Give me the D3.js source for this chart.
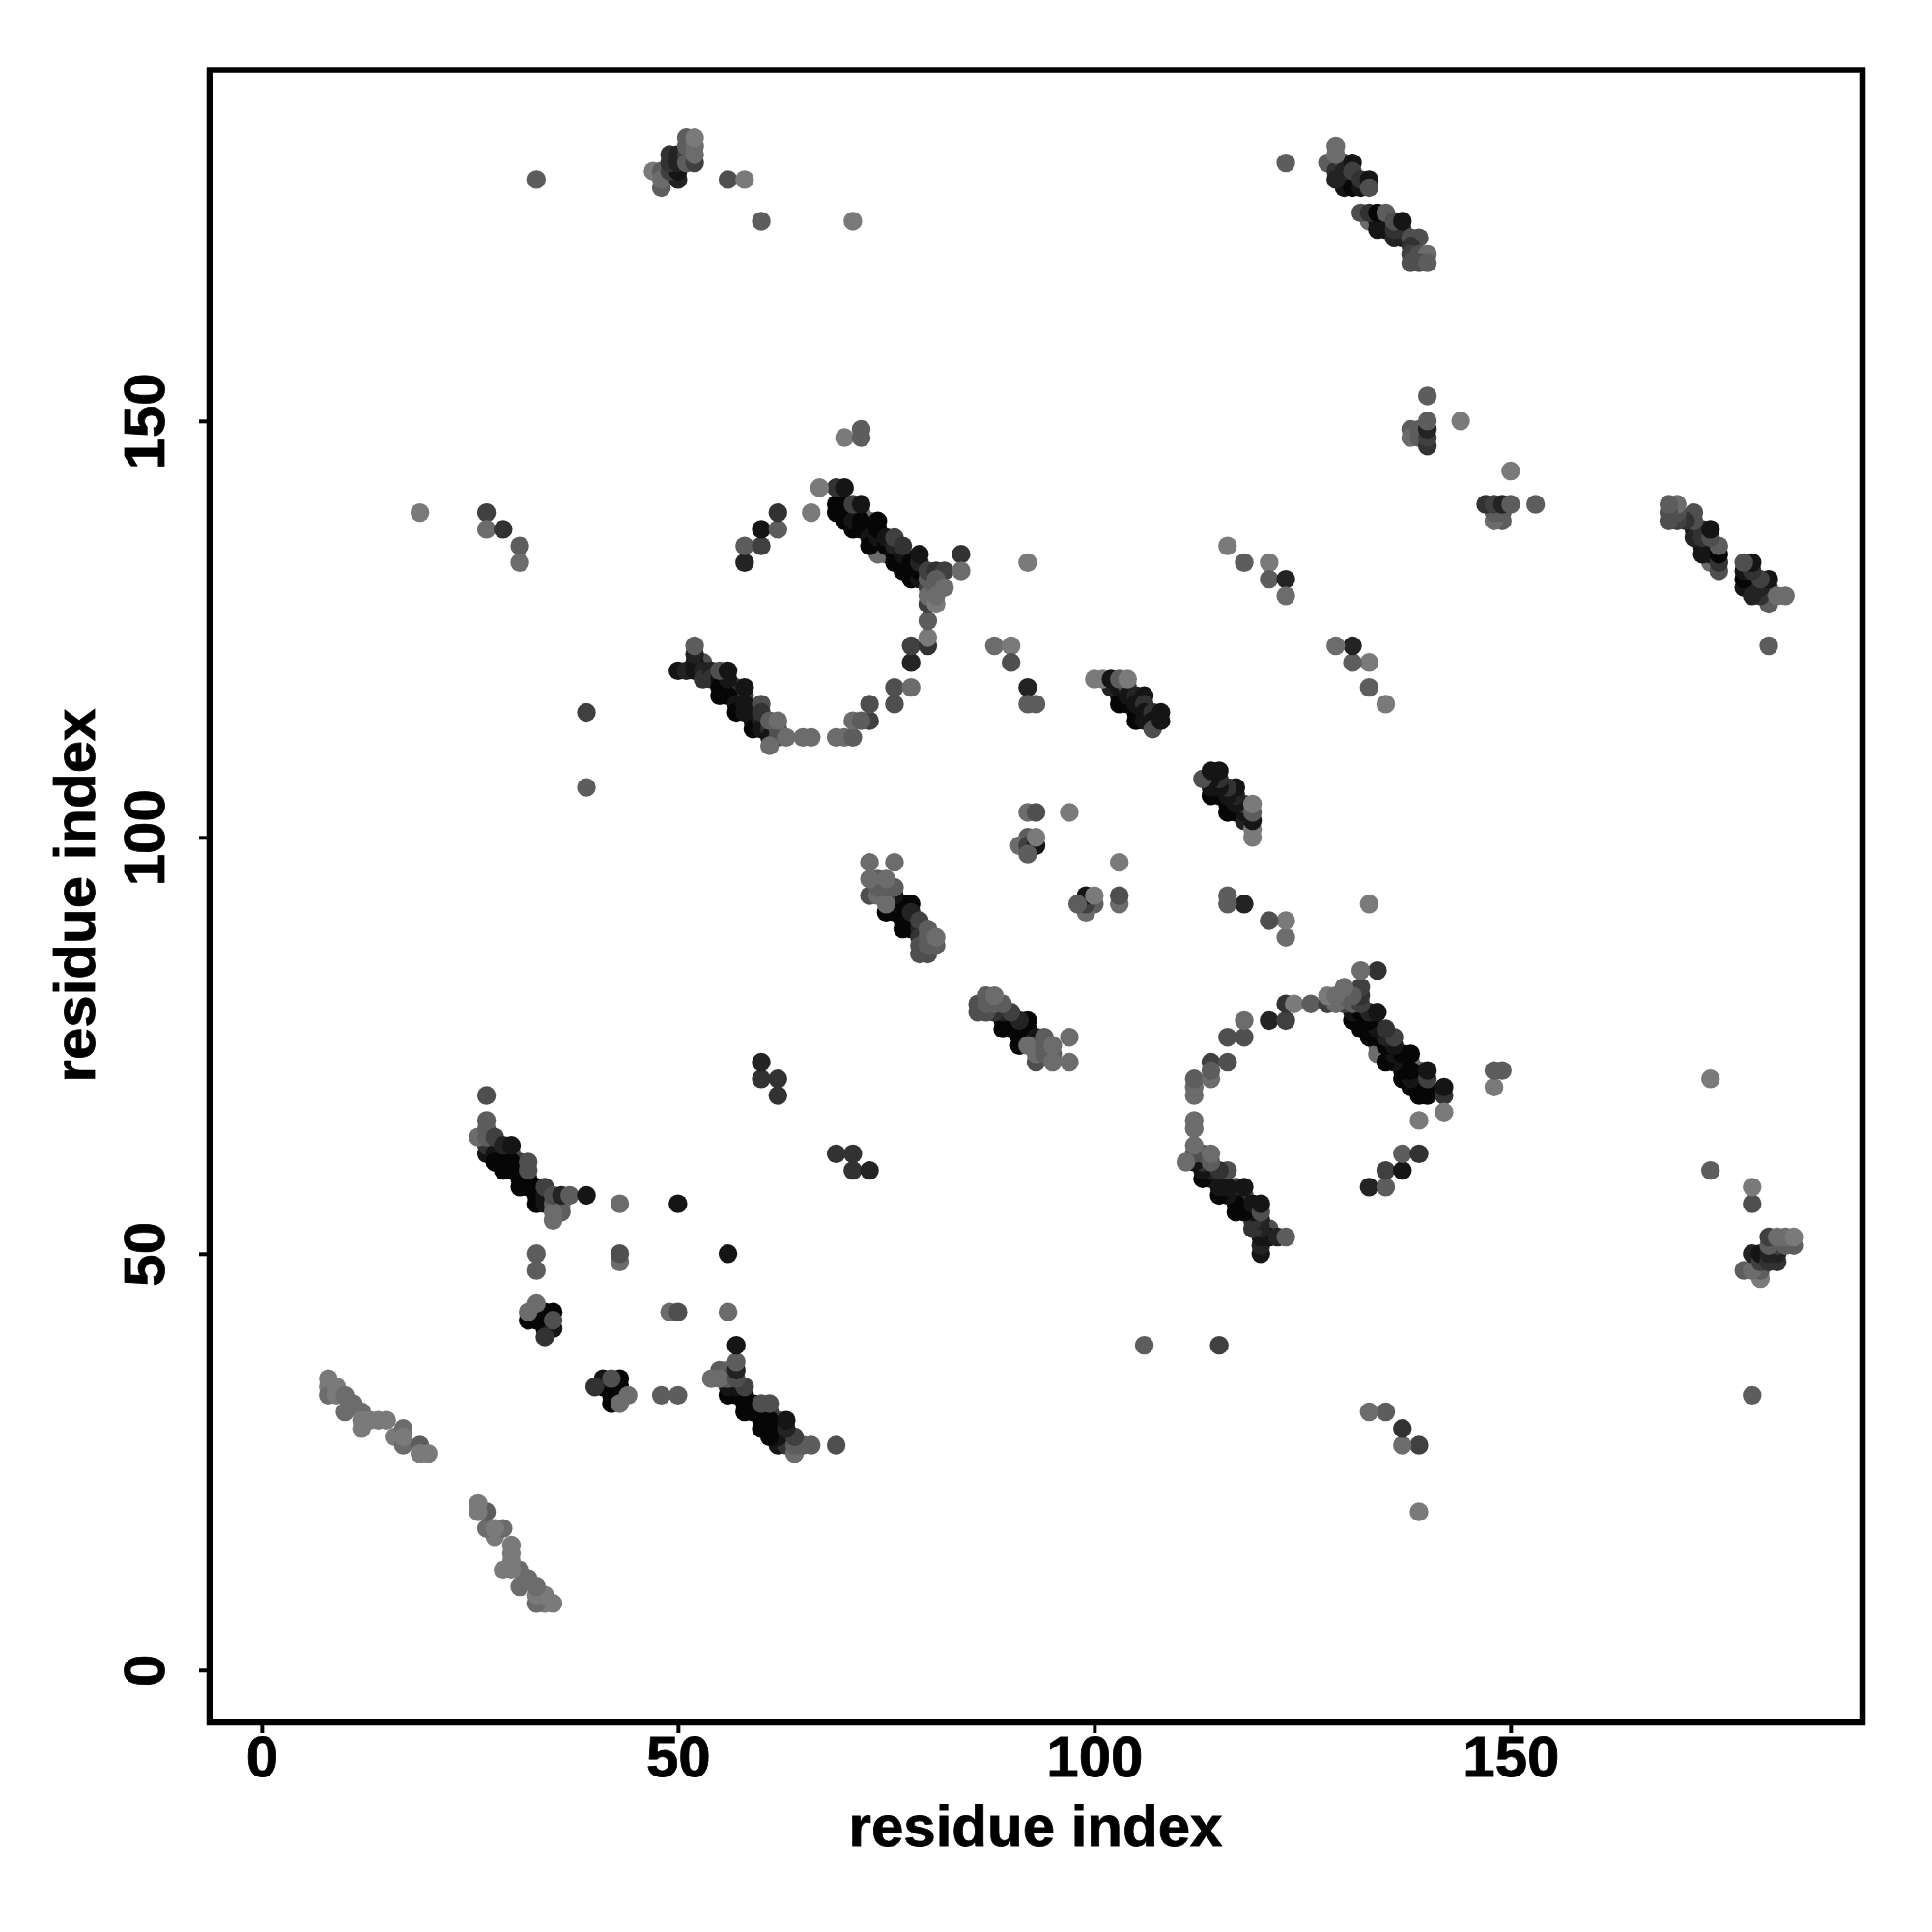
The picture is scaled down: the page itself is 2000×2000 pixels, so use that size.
<!DOCTYPE html>
<html><head><meta charset="utf-8">
<script src="https://cdnjs.cloudflare.com/ajax/libs/d3/7.8.5/d3.min.js"></script>
<style>html,body{margin:0;background:#fff}svg{display:block}text{font-family:"Liberation Sans",Arial,sans-serif;font-weight:700;fill:#000;stroke:#000;stroke-width:.8}</style>
</head><body><div id="c"></div>
<script>
const xTicks=[0,50,100,150];
const yTicks=[0,50,100,150];
const axisLabel="residue index";
// contact pairs [i, j, strength 1..9]; the map is symmetric in i and j
const strand8to35=[[8,35,1],[8,34,1],[8,33,2],[9,34,1],[9,33,1],[10,33,2],[10,31,2],[11,32,2],[12,31,2],[12,29,1],[12,30,1],[13,30,1],[14,30,1],[15,30,1],[16,28,1],[17,29,2],[17,27,2],[17,28,1],[19,27,3],[19,26,1],[20,26,1]];
const strand26to69=[[30,62,4],[31,61,5],[27,62,8],[27,63,6],[28,62,8],[28,61,9],[29,61,9],[29,60,9],[30,60,9],[30,61,9],[31,59,9],[31,58,9],[32,58,9],[32,59,9],[33,58,9],[33,56,9],[33,57,9],[34,57,8],[34,56,8],[26,64,2],[27,69,4],[27,66,3],[27,65,3],[27,64,3],[28,64,5],[29,63,7],[32,61,4],[32,60,4],[30,63,8],[34,58,5],[35,56,3],[36,56,2],[36,55,3],[35,55,2],[35,54,2],[35,57,4],[36,57,7],[37,57,3],[39,57,8]];
const block32to44=[[33,43,5],[32,42,9],[33,42,9],[34,42,9],[34,41,9],[34,43,9],[35,43,9],[35,41,8],[34,40,6],[35,42,4],[32,43,2],[33,44,2]];
const isolatedLow=[[19,139,1],[27,139,5],[27,137,2],[29,137,6],[31,135,3],[31,133,2],[33,179,3],[33,50,3],[33,48,3],[39,115,5],[39,106,3],[43,56,2],[43,49,2],[43,50,4],[50,56,8],[56,179,4],[58,179,1],[60,174,3],[71,174,1],[60,71,6],[60,73,7],[62,69,6],[62,71,6],[58,133,7],[58,135,3],[60,135,5],[60,137,8],[62,137,3],[62,139,6],[66,139,1],[70,148,1],[72,149,3],[72,148,3]];
const block47to52=[[47,180,1],[48,178,3],[48,180,3],[48,179,2],[50,179,7],[49,180,5],[50,180,8],[49,182,6],[49,181,6],[50,182,7],[50,181,7],[51,182,5],[51,181,3],[52,181,5],[51,184,3],[51,183,3],[52,182,2],[52,183,2],[52,184,1]];
const strand50to66=[[53,121,4],[57,118,4],[57,117,5],[58,117,5],[56,118,6],[50,120,8],[51,120,7],[52,120,8],[52,121,8],[52,122,7],[53,120,7],[53,119,6],[54,120,7],[54,119,6],[55,119,8],[55,118,9],[55,117,9],[56,117,9],[56,119,8],[57,116,8],[57,115,9],[58,116,8],[58,115,8],[59,115,8],[59,114,8],[59,113,9],[60,114,7],[60,113,8],[61,113,6],[61,112,8],[52,123,3],[55,120,4],[56,120,8],[58,118,8],[60,116,4],[60,115,6],[62,113,4],[62,112,4],[61,111,2],[61,114,3],[62,114,2],[63,112,2],[65,112,2],[66,112,2]];
const ringTop=[[69,112,2],[70,112,2],[71,112,3],[73,114,5],[71,114,2],[72,114,3],[73,116,4],[76,116,4],[76,118,4],[78,118,2],[78,121,7],[78,123,5],[80,123,6],[80,124,1],[80,126,3]];
const strand69to84=[[71,139,3],[72,139,3],[73,138,2],[74,135,2],[74,134,2],[75,134,2],[69,140,9],[70,140,9],[69,139,9],[70,139,9],[70,138,9],[71,137,9],[71,138,8],[72,138,9],[72,137,9],[73,137,9],[73,136,8],[73,135,9],[74,136,8],[74,137,9],[74,138,9],[75,135,9],[75,136,8],[76,133,9],[76,134,9],[76,135,7],[77,132,9],[77,133,9],[77,134,8],[78,131,9],[78,132,9],[78,133,9],[79,131,8],[79,132,9],[79,133,7],[69,142,6],[70,142,8],[67,142,1],[71,140,5],[72,140,8],[76,136,5],[77,135,6],[79,134,8],[80,130,5],[80,128,5],[80,129,2],[80,131,3],[80,132,5],[81,132,6],[82,132,5],[81,131,3],[81,130,3],[82,130,2],[81,128,1],[81,129,2],[84,134,6],[84,132,2]];
const strand73to97=[[78,90,3],[75,91,9],[76,92,9],[76,91,9],[77,92,9],[77,91,9],[78,92,9],[77,90,9],[77,89,9],[78,89,9],[76,93,8],[78,91,7],[79,89,7],[79,90,5],[75,93,5],[73,93,4],[74,93,2],[75,92,2],[74,94,3],[75,94,3],[76,94,3],[74,95,3],[75,95,2],[73,95,2],[73,97,2],[76,97,2],[79,88,6],[79,87,4],[79,86,4],[80,86,4],[80,87,3],[80,88,3],[80,89,3],[81,87,3],[81,88,2]];
const middleSpots=[[88,123,2],[90,123,1],[90,121,4],[92,118,7],[92,116,3],[93,116,3],[92,133,1],[92,103,2],[93,103,4],[97,103,1],[92,100,3],[91,99,2],[92,99,5],[93,99,8],[93,100,1],[92,98,3]];
const strand100to119=[[103,117,9],[103,116,9],[104,116,9],[105,115,9],[105,114,9],[102,118,7],[103,118,8],[104,118,5],[104,117,8],[105,117,7],[105,116,8],[106,117,8],[106,116,6],[106,115,8],[106,114,8],[107,115,6],[107,114,8],[107,113,4],[108,115,8],[108,114,8],[100,119,1],[101,119,1],[102,119,8],[103,119,3],[104,119,1]];
const strand129to140=[[133,174,2],[130,179,8],[130,178,8],[131,179,8],[131,178,9],[132,178,8],[129,183,2],[128,181,3],[129,181,3],[129,180,6],[129,179,7],[130,181,5],[130,180,7],[131,181,8],[131,180,5],[132,179,6],[133,179,8],[133,178,4],[129,182,2],[134,174,8],[135,174,8],[134,173,8],[135,173,8],[137,172,8],[136,172,7],[136,173,6],[137,173,6],[132,175,4],[133,175,6],[134,175,9],[135,175,3],[136,174,4],[137,174,8],[138,172,4],[139,172,4],[138,171,6],[138,170,5],[139,170,4],[140,170,2],[138,169,4],[139,169,4],[140,169,3]];
const isolatedHigh=[[116,135,1],[118,133,3],[121,133,1],[121,131,3],[123,131,7],[123,129,2],[123,181,3],[138,149,3],[138,148,2],[139,149,3],[139,148,3],[140,147,6],[140,148,5],[140,149,7],[140,150,3],[140,153,3],[144,150,1]];
const contacts=[].concat(strand8to35,strand26to69,block32to44,isolatedLow,block47to52,strand50to66,ringTop,strand69to84,strand73to97,middleSpots,strand100to119,strand129to140,isolatedHigh);

const W=2000,H=2000,left=217,right=1928,top_=72.5,bottom=1783;
const x=d3.scaleLinear().domain([-6.25,192.25]).range([left,right]);
const y=d3.scaleLinear().domain([-6.29,192.15]).range([bottom,top_]);
const grey=d3.scaleLinear().domain([1,9]).range([0x7a,0x06]);
const svg=d3.select("#c").append("svg").attr("width",W).attr("height",H);

// symmetric map: every pair is drawn in both triangles
const points=contacts.flatMap(([i,j,s])=>[{x:i,y:j,s},{x:j,y:i,s}]);
svg.append("g").selectAll("circle").data(points).join("circle")
  .attr("cx",d=>x(d.x)).attr("cy",d=>y(d.y)).attr("r",9.7)
  .attr("fill",d=>{const g=Math.round(grey(d.s));return `rgb(${g},${g},${g})`;});

svg.append("rect").attr("x",left).attr("y",top_).attr("width",right-left).attr("height",bottom-top_)
  .attr("fill","none").attr("stroke","#000").attr("stroke-width",6.5);

const ax=svg.append("g").attr("transform",`translate(0,${bottom})`)
  .call(d3.axisBottom(x).tickValues(xTicks).tickSize(11).tickPadding(0).tickFormat(d3.format("d")));
const ay=svg.append("g").attr("transform",`translate(${left},0)`)
  .call(d3.axisLeft(y).tickValues(yTicks).tickSize(11).tickPadding(0).tickFormat(d3.format("d")));
[ax,ay].forEach(a=>{
  a.select(".domain").remove();
  a.selectAll("line").attr("stroke","#000").attr("stroke-width",4);
  a.selectAll("text").attr("font-size",60).style("font-family",'"Liberation Sans"').style("font-weight",700).attr("fill","#000");
});
ax.selectAll("text").attr("dy",null).attr("y",56);
ay.selectAll("text").attr("dy",null).attr("x",null).attr("y",null).attr("text-anchor","middle")
  .attr("transform",`translate(${170-left},0) rotate(-90)`);

svg.append("text").attr("x",1072).attr("y",1911).attr("text-anchor","middle").attr("font-size",60).text(axisLabel);
svg.append("text").attr("transform","translate(98,927) rotate(-90)").attr("text-anchor","middle").attr("font-size",60).text(axisLabel);
</script>
</body></html>
